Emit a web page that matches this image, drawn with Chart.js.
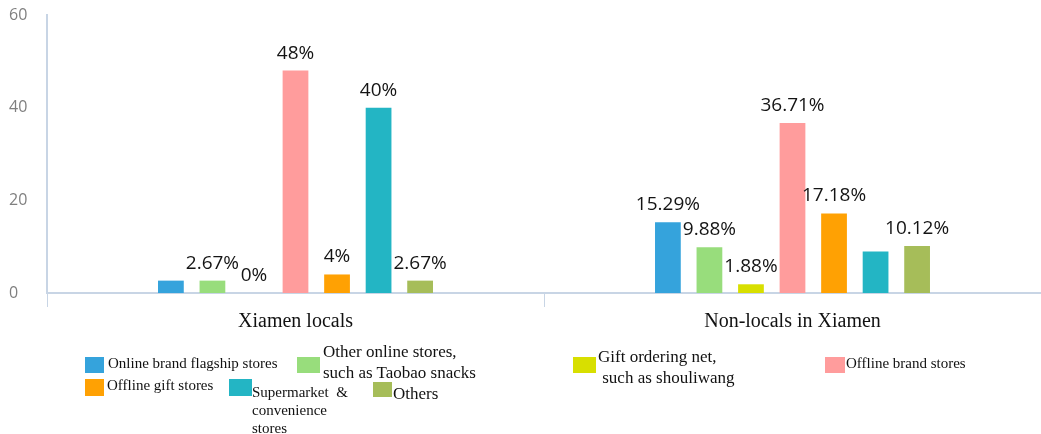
<!DOCTYPE html>
<html>
<head>
<meta charset="utf-8">
<script src="https://cdn.jsdelivr.net/npm/chart.js@4/dist/chart.umd.min.js"></script>
<style>
  body { margin: 0; background: #fff; }
  #wrap { position: relative; width: 1041px; height: 434px; overflow: hidden; }
  #chart { position: absolute; left: 0; top: 0; }
  .lg-text { position: absolute; font-family: 'Liberation Serif', 'Times New Roman', serif; color: #111; white-space: pre; }
  .lg-box { position: absolute; }
</style>
</head>
<body>
<div id="wrap">
  <canvas id="chart" width="1041" height="434"></canvas>
</div>
<script>
// categories and series
const categories = ['Xiamen locals', 'Non-locals in Xiamen'];
const yTicks = [0, 20, 40, 60];

const seriesNames = [
  'Online brand flagship stores',
  'Other online stores,\nsuch as Taobao snacks',
  'Gift ordering net,\n such as shouliwang',
  'Offline brand stores',
  'Offline gift stores',
  'Supermarket  &\nconvenience\nstores',
  'Others'
];
const seriesColors = ['#35a3dc', '#98dd7c', '#d8df00', '#ff9c9c', '#ffa103', '#23b5c4', '#a6bd59'];

const onlineFlagship = [2.67, 15.29];
const otherOnline    = [2.67, 9.88];
const giftOrdering   = [0, 1.88];
const offlineBrand   = [48, 36.71];
const offlineGift    = [4, 17.18];
const supermarket    = [40, 8.94];
const others         = [2.67, 10.12];

// value labels as printed on the picture (null = no label shown)
const onlineFlagshipLbl = [null, '15.29%'];
const otherOnlineLbl    = ['2.67%', '9.88%'];
const giftOrderingLbl   = ['0%', '1.88%'];
const offlineBrandLbl   = ['48%', '36.71%'];
const offlineGiftLbl    = ['4%', '17.18%'];
const supermarketLbl    = ['40%', null];
const othersLbl         = ['2.67%', '10.12%'];

const seriesValues = [onlineFlagship, otherOnline, giftOrdering, offlineBrand, offlineGift, supermarket, others];
const seriesLabels = [onlineFlagshipLbl, otherOnlineLbl, giftOrderingLbl, offlineBrandLbl, offlineGiftLbl, supermarketLbl, othersLbl];

// legend placement (pixels), same order as series
const legendLayout = [
  { bx: 85,  by: 357, bw: 19, bh: 16, tx: 108, ty: 354, fs: 15, lh: 18 },
  { bx: 297, by: 357, bw: 23, bh: 16, tx: 323, ty: 341, fs: 17, lh: 21 },
  { bx: 573, by: 357, bw: 23, bh: 16, tx: 598, ty: 346, fs: 17, lh: 21 },
  { bx: 825, by: 357, bw: 20, bh: 16, tx: 846, ty: 354, fs: 15, lh: 18 },
  { bx: 85,  by: 379, bw: 19, bh: 17, tx: 107, ty: 376, fs: 15, lh: 18 },
  { bx: 229, by: 379, bw: 23, bh: 17, tx: 252, ty: 383, fs: 15, lh: 18 },
  { bx: 373, by: 382, bw: 19, bh: 15, tx: 393, ty: 383, fs: 17, lh: 21 }
];

const axisColor = '#c8d5e5';

const valueLabels = {
  id: 'valueLabels',
  afterDatasetsDraw(chart) {
    const ctx = chart.ctx;
    ctx.save();
    ctx.font = '19px "Open Sans", "Noto Sans", sans-serif';
    ctx.fillStyle = '#141414';
    ctx.textAlign = 'center';
    ctx.textBaseline = 'alphabetic';
    chart.data.datasets.forEach((ds, i) => {
      const meta = chart.getDatasetMeta(i);
      meta.data.forEach((bar, j) => {
        const txt = seriesLabels[i][j];
        if (txt) ctx.fillText(txt, bar.x, bar.y - 12);
      });
    });
    ctx.restore();
  }
};

const datasets = seriesNames.map((name, i) => ({
  label: name.replace(/\s*\n\s*/g, ' '),
  data: seriesValues[i],
  backgroundColor: seriesColors[i],
  borderWidth: 0,
  categoryPercentage: 0.585,
  barPercentage: 0.62
}));

new Chart(document.getElementById('chart').getContext('2d'), {
  type: 'bar',
  data: { labels: categories, datasets: datasets },
  options: {
    responsive: false,
    animation: false,
    layout: { padding: { left: 9, top: 15, right: -14, bottom: 0 } },
    plugins: {
      legend: { display: false },
      tooltip: { enabled: false }
    },
    scales: {
      x: {
        grid: {
          offset: true,
          drawOnChartArea: false,
          drawTicks: true,
          tickLength: 14,
          color: axisColor
        },
        border: { color: axisColor, width: 2 },
        ticks: {
          color: '#111',
          padding: 3,
          font: { family: '"Liberation Serif", "Times New Roman", serif', size: 20 }
        },
        afterFit(scale) { scale.height = 141; }
      },
      y: {
        min: 0,
        max: 60,
        afterBuildTicks(scale) { scale.ticks = yTicks.map(v => ({ value: v })); },
        grid: { display: false },
        border: { color: axisColor, width: 2 },
        ticks: {
          color: '#7f7f7f',
          crossAlign: 'far',
          font: { family: '"Open Sans", "Noto Sans", sans-serif', size: 16 }
        },
        afterFit(scale) { scale.width = 38; }
      }
    }
  },
  plugins: [valueLabels]
});

// HTML legend
const wrap = document.getElementById('wrap');
seriesNames.forEach((name, i) => {
  const L = legendLayout[i];
  const box = document.createElement('div');
  box.className = 'lg-box';
  box.style.cssText = `left:${L.bx}px;top:${L.by}px;width:${L.bw}px;height:${L.bh}px;background:${seriesColors[i]}`;
  wrap.appendChild(box);
  const t = document.createElement('div');
  t.className = 'lg-text';
  t.style.cssText = `left:${L.tx}px;top:${L.ty}px;font-size:${L.fs}px;line-height:${L.lh}px`;
  t.textContent = name;
  wrap.appendChild(t);
});
</script>
</body>
</html>
